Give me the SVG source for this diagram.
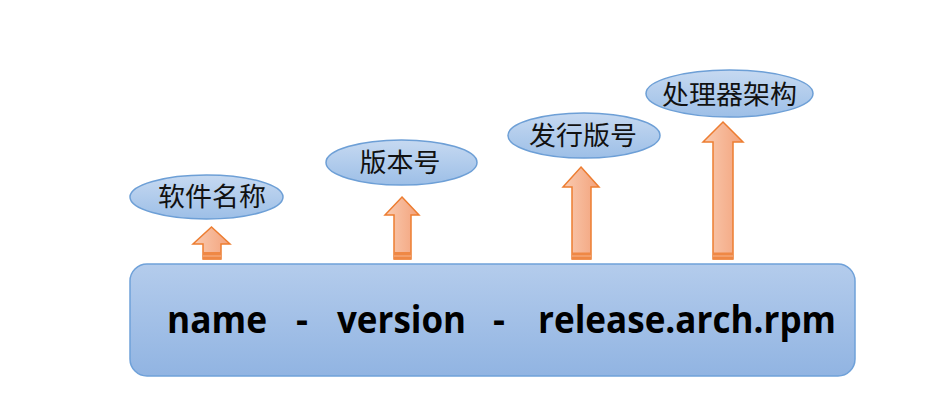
<svg xmlns="http://www.w3.org/2000/svg" width="939" height="411" viewBox="0 0 939 411">
<defs>
<linearGradient id="gEll" x1="0" y1="0" x2="0" y2="1">
<stop offset="0" stop-color="#c6d9f1"/>
<stop offset="1" stop-color="#9dbfe7"/>
</linearGradient>
<linearGradient id="gBox" x1="0" y1="0" x2="0" y2="1">
<stop offset="0" stop-color="#b4ccec"/>
<stop offset="1" stop-color="#91b4e2"/>
</linearGradient>
<linearGradient id="gArr" x1="0" y1="0" x2="1" y2="0">
<stop offset="0" stop-color="#f9cbb1"/>
<stop offset="1" stop-color="#f3a27b"/>
</linearGradient>
<style>
.ell{fill:url(#gEll);stroke:#6d9fd6;stroke-width:1.5}
.box{fill:url(#gBox);stroke:#6fa1d9;stroke-width:1.5}
.arr{fill:url(#gArr);stroke:#ed7d31;stroke-width:1.5;stroke-linejoin:miter}
.band{fill:#ef8845}
.bandline{stroke:#f7b48e;stroke-width:1}
.cn{font-family:"Noto Sans CJK SC","Noto Sans",sans-serif;font-size:26px;fill:#111;text-anchor:middle}
.en{font-family:"Open Sans","DejaVu Sans",sans-serif;font-weight:bold;font-size:37px;fill:#000}
</style>
</defs>
<rect width="939" height="411" fill="#fff"/>
<g id="node-filename">
<rect class="box" x="130" y="264" width="725" height="112" rx="17" ry="17"/>
<text class="en" x="167" y="333" textLength="100" lengthAdjust="spacingAndGlyphs">name</text>
<text class="en" x="296" y="333" textLength="12" lengthAdjust="spacingAndGlyphs">-</text>
<text class="en" x="337" y="333" textLength="129" lengthAdjust="spacingAndGlyphs">version</text>
<text class="en" x="493" y="333" textLength="12" lengthAdjust="spacingAndGlyphs">-</text>
<text class="en" x="538" y="333" textLength="298" lengthAdjust="spacingAndGlyphs">release.arch.rpm</text>
</g>
<g id="node-name">
<ellipse class="ell" cx="206.5" cy="197" rx="76.5" ry="22"/>
<text class="cn" x="212" y="206" textLength="108" lengthAdjust="spacingAndGlyphs">软件名称</text>
</g>
<g id="node-version">
<ellipse class="ell" cx="401.5" cy="162.5" rx="75.5" ry="22.5"/>
<text class="cn" x="400" y="172" textLength="81" lengthAdjust="spacingAndGlyphs">版本号</text>
</g>
<g id="node-release">
<ellipse class="ell" cx="584" cy="135.5" rx="76" ry="22.5"/>
<text class="cn" x="583" y="145" textLength="108" lengthAdjust="spacingAndGlyphs">发行版号</text>
</g>
<g id="node-arch">
<ellipse class="ell" cx="729.5" cy="93.5" rx="83.5" ry="23.5"/>
<text class="cn" x="729.5" y="103.5" textLength="135" lengthAdjust="spacingAndGlyphs">处理器架构</text>
</g>
<g id="connectors">
<polygon class="arr" points="211.5,227 230,244 221,244 221,259 203,259 203,244 193,244"/>
<rect class="band" x="203" y="252" width="18" height="7.5"/>
<line class="bandline" x1="203" y1="256" x2="221" y2="256"/>
<polygon class="arr" points="402,197 419,215 411,215 411,259 394,259 394,215 385,215"/>
<rect class="band" x="394" y="252" width="17" height="7.5"/>
<line class="bandline" x1="394" y1="256" x2="411" y2="256"/>
<polygon class="arr" points="581,167 599,187 591,187 591,259 572,259 572,187 563,187"/>
<rect class="band" x="572" y="252.5" width="19" height="7"/>
<line class="bandline" x1="572" y1="256" x2="591" y2="256"/>
<polygon class="arr" points="723,122 743,142 733,142 733,259 713,259 713,142 703,142"/>
<rect class="band" x="713" y="252.5" width="20" height="7"/>
<line class="bandline" x1="713" y1="256" x2="733" y2="256"/>
</g>
</svg>
